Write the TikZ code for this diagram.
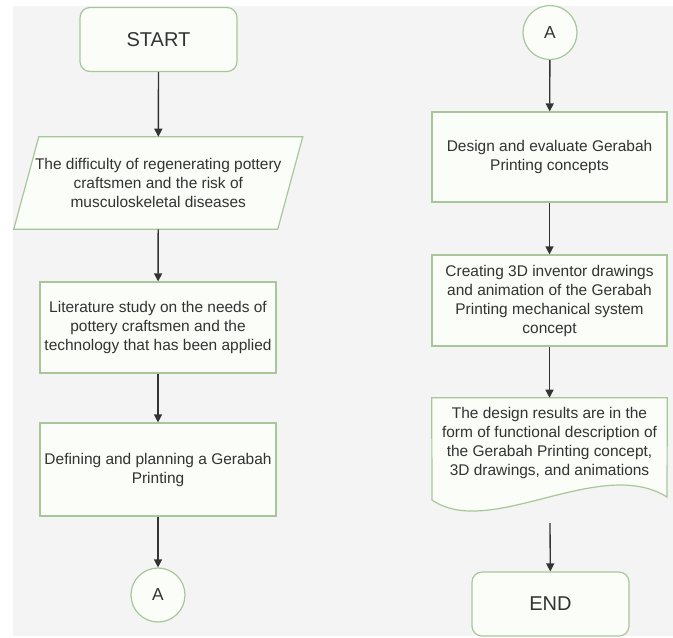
\documentclass[tikz,border=0pt]{standalone}
\usepackage{fontspec}
\setmainfont{Liberation Sans}
\usetikzlibrary{arrows.meta}
\pgfdeclarelayer{background}
\pgfsetlayers{background,main}
\definecolor{bg}{HTML}{F4F4F4}
\definecolor{boxfill}{HTML}{FAFDF8}
\definecolor{boxline}{HTML}{A9C69B}
\definecolor{txt}{HTML}{333333}
\begin{document}
\begin{tikzpicture}[x=0.75pt,y=-0.75pt,
  txtstyle/.style={align=center, text=txt, inner sep=0pt, font=\fontsize{11.6pt}{14.25pt}\selectfont},
  box/.style={txtstyle, draw=boxline, fill=boxfill, line width=0.9pt},
  term/.style={box, rounded corners=7.5pt, font=\fontsize{15pt}{18pt}\selectfont, minimum width=117.75pt, minimum height=48pt},
  conn/.style={circle, draw=boxline, fill=boxfill, line width=0.9pt, text=txt, font=\fontsize{13pt}{15pt}\selectfont, minimum size=40.5pt, inner sep=0pt},
  flow/.style={draw=txt, line width=1pt, -{Triangle[length=6pt,width=6pt]}},
  shapeline/.style={draw=boxline, fill=boxfill, line width=0.9pt}]
\useasboundingbox (0,0) rectangle (673,637);
\begin{pgfonlayer}{background}
\fill[bg] (13,6) rectangle (673,636);
\end{pgfonlayer}

% left column
\node[term] (start) at (158.5,39.5) {START};
\node[txtstyle, minimum width=197.6pt, minimum height=69pt] (prob) at (158.25,183)
  {The difficulty of regenerating pottery\\ craftsmen and the risk of\\ musculoskeletal diseases};
\begin{pgfonlayer}{background}
\draw[shapeline] ([xshift=9.4pt]prob.north west) -- ([xshift=9.4pt]prob.north east)
  -- ([xshift=-9.4pt]prob.south east) -- ([xshift=-9.4pt]prob.south west) -- cycle;
\end{pgfonlayer}
\node[box, minimum width=177pt, minimum height=68.25pt] (lit) at (158,327.5)
  {Literature study on the needs of\\ pottery craftsmen and the\\ technology that has been applied};
\node[box, minimum width=177pt, minimum height=69.75pt] (def) at (158,469.5)
  {Defining and planning a Gerabah\\ Printing};
\node[conn] (a1) at (158,595) {A};

% right column
\node[conn] (a2) at (550,32.5) {A};
\node[box, minimum width=176.25pt, minimum height=67.5pt] (design) at (549.5,157)
  {Design and evaluate Gerabah\\ Printing concepts};
\node[box, minimum width=176.25pt, minimum height=68.25pt] (create) at (549.5,300.5)
  {Creating 3D inventor drawings\\ and animation of the Gerabah\\ Printing mechanical system\\ concept};
\node[txtstyle, minimum width=176.25pt, minimum height=67.5pt] (doc) at (549.5,443)
  {The design results are in the\\ form of functional description of\\ the Gerabah Printing concept,\\ 3D drawings, and animations};
\begin{pgfonlayer}{background}
\draw[shapeline] (doc.north west) -- (doc.north east) -- (667,497)
  .. controls (600,455) and (490,540) .. (432,500) -- cycle;
\end{pgfonlayer}
\coordinate (docb) at (550,523);
\node[term] (end) at (550.5,604) {END};

% connectors
\draw[flow] (start) -- (prob);
\draw[flow] (prob) -- (lit);
\draw[flow] (lit) -- (def);
\draw[flow] (def) -- (a1);
\draw[flow] (a2) -- (design);
\draw[flow] (design) -- (create);
\draw[flow] (create) -- (doc);
\draw[flow] (docb) -- (end);
\end{tikzpicture}
\end{document}
